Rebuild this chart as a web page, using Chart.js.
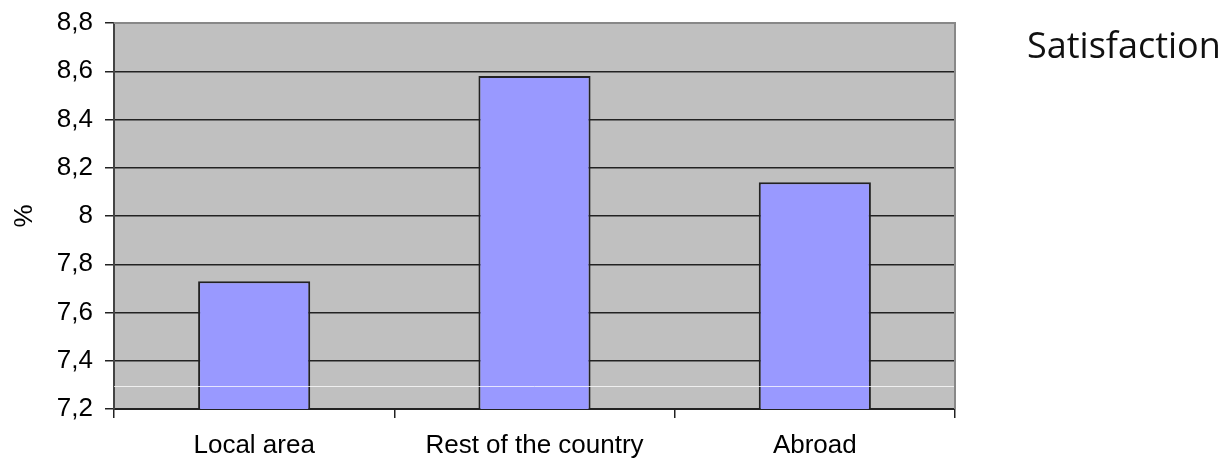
<!DOCTYPE html>
<html>
<head>
<meta charset="utf-8">
<script src="https://cdn.jsdelivr.net/npm/chart.js@4.4.1/dist/chart.umd.min.js"></script>
<style>
    html, body { margin: 0; padding: 0; background: #fff; }
    #wrap { position: relative; width: 1229px; height: 460px; }
    #side-title {
        position: absolute; left: 1027px; top: 20px;
        font-family: "Open Sans", "Noto Sans", sans-serif; font-size: 36px; color: #111;
    }
</style>
</head>
<body>
<div id="wrap">
    <canvas id="chart-satisfaction" width="1229" height="460"></canvas>
    <div id="side-title">Satisfaction</div>
</div>
<script>
const categories = ["Local area", "Rest of the country", "Abroad"];
const satisfaction = [7.73, 8.58, 8.14];
const yTicks = [7.2, 7.4, 7.6, 7.8, 8, 8.2, 8.4, 8.6, 8.8];

const axisFont = { family: "'Liberation Sans', Arial, sans-serif", size: 26 };

// grey plot background, plus the thin grey frame on top/right
const plotBox = {
    id: "plotBox",
    beforeDraw(chart) {
        const { ctx, chartArea: a } = chart;
        ctx.save();
        ctx.fillStyle = "#c0c0c0";
        ctx.fillRect(a.left, a.top, a.right - a.left, a.bottom - a.top);
        ctx.restore();
    },
    afterDatasetsDraw(chart) {
        const { ctx, chartArea: a, scales } = chart;
        ctx.save();
        // faint light streak across the plot
        const yy = Math.round(scales.y.getPixelForValue(7.295)) + 0.5;
        ctx.strokeStyle = "rgba(255,255,255,0.75)";
        ctx.lineWidth = 1;
        ctx.beginPath();
        ctx.moveTo(a.left, yy);
        ctx.lineTo(a.right, yy);
        ctx.stroke();
        ctx.strokeStyle = "#888";
        ctx.lineWidth = 2;
        ctx.beginPath();
        ctx.moveTo(a.left, a.top);
        ctx.lineTo(a.right, a.top);
        ctx.lineTo(a.right, a.bottom);
        ctx.stroke();
        ctx.restore();
    }
};

const ctx = document.getElementById("chart-satisfaction");
new Chart(ctx, {
    type: "bar",
    data: {
        labels: categories,
        datasets: [
            {
                label: "Satisfaction",
                data: satisfaction,
                backgroundColor: "#9999ff",
                borderColor: "#222",
                borderWidth: 2,
                categoryPercentage: 1,
                barPercentage: 0.4,
            },
        ],
    },
    options: {
        responsive: false,
        animation: false,
        layout: { padding: { top: 23, right: 274, left: 0, bottom: 0 } },
        plugins: { legend: { display: false }, tooltip: { enabled: false } },
        scales: {
            x: {
                afterFit(s) { s.height = 51; },
                grid: { display: true, drawOnChartArea: false, color: "#222", lineWidth: 1.5, tickLength: 9 },
                border: { color: "#222", width: 2 },
                ticks: { color: "#000", padding: 12, font: axisFont },
            },
            y: {
                min: 7.2,
                max: 8.8,
                afterFit(s) {
                    s.width = 114;
                    s.paddingTop = 0;
                    s.paddingBottom = 0;
                },
                afterBuildTicks(s) { s.ticks = yTicks.map((v) => ({ value: v })); },
                grid: { color: "#222", lineWidth: 1.5, tickLength: 9 },
                border: { color: "#444", width: 2 },
                ticks: {
                    color: "#000",
                    padding: 12,
                    font: axisFont,
                    callback: (v) => String(v).replace(".", ","),
                },
                title: {
                    display: true,
                    text: "%",
                    color: "#000",
                    padding: { top: 9, bottom: 0 },
                    font: axisFont,
                },
            },
        },
    },
    plugins: [plotBox],
});
</script>
</body>
</html>
